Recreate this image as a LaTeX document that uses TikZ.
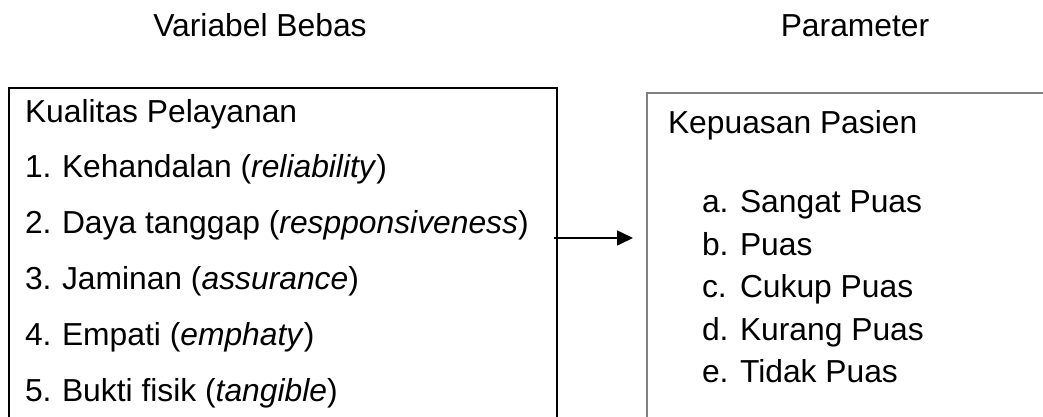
\documentclass[tikz,border=0pt]{standalone}
\usepackage{fontspec}
\setmainfont{Liberation Sans}
\usetikzlibrary{arrows.meta}
\tikzset{
  txt/.style={anchor=base west, inner sep=0pt, outer sep=0pt, font=\fontsize{31.8}{38}\selectfont},
  ttl/.style={anchor=base, inner sep=0pt, outer sep=0pt, font=\fontsize{31.8}{38}\selectfont},
  leftbox/.style={draw=black, line width=2pt, inner sep=0pt, outer sep=0pt, anchor=north west},
  rightbox/.style={draw=black!50, line width=1.2pt, inner sep=0pt, outer sep=0pt, anchor=north west},
  conn/.style={line width=1.6pt, -{Triangle[length=16pt,width=15pt]}}
}
\begin{document}
\begin{tikzpicture}[x=1pt,y=-1pt]
\useasboundingbox (0,0) rectangle (1043,417);
\clip (0,0) rectangle (1043,417);
% titles
\node[ttl] (t1) at (260,37) {Variabel Bebas};
\node[ttl] (t2) at (855,37) {Parameter};
% boxes
\node[leftbox, minimum width=548pt, minimum height=360pt] (lbox) at (9,88) {};
\node[rightbox, minimum width=420pt, minimum height=360pt] (rbox) at (647,93) {};
% left text
\node[txt] (lh) at (25,122) {Kualitas Pelayanan};
\node[txt] (n1) at (25,177) {1.};
\node[txt] (l1) at (62,177) {Kehandalan (\textit{reliability})};
\node[txt] (n2) at (25,233) {2.};
\node[txt] (l2) at (62,233) {Daya tanggap (\textit{respponsiveness})};
\node[txt] (n3) at (25,289) {3.};
\node[txt] (l3) at (62,289) {Jaminan (\textit{assurance})};
\node[txt] (n4) at (25,345) {4.};
\node[txt] (l4) at (62,345) {Empati (\textit{emphaty})};
\node[txt] (n5) at (25,401) {5.};
\node[txt] (l5) at (62,401) {Bukti fisik (\textit{tangible})};
% right text
\node[txt] (rh) at (668,133) {Kepuasan Pasien};
\node[txt] (ma) at (702,212) {a.};
\node[txt] (ra) at (740,212) {Sangat Puas};
\node[txt] (mb) at (702,255) {b.};
\node[txt] (rb) at (740,255) {Puas};
\node[txt] (mc) at (702,297) {c.};
\node[txt] (rc) at (740,297) {Cukup Puas};
\node[txt] (md) at (702,340) {d.};
\node[txt] (rd) at (740,340) {Kurang Puas};
\node[txt] (me) at (702,382) {e.};
\node[txt] (re) at (740,382) {Tidak Puas};
% connector
\coordinate (as) at ([xshift=-3pt]lbox.east |- 0,238);
\coordinate (ae) at ([xshift=-14pt]rbox.west |- 0,238);
\draw[conn] (as) -- (ae);
\end{tikzpicture}
\end{document}
